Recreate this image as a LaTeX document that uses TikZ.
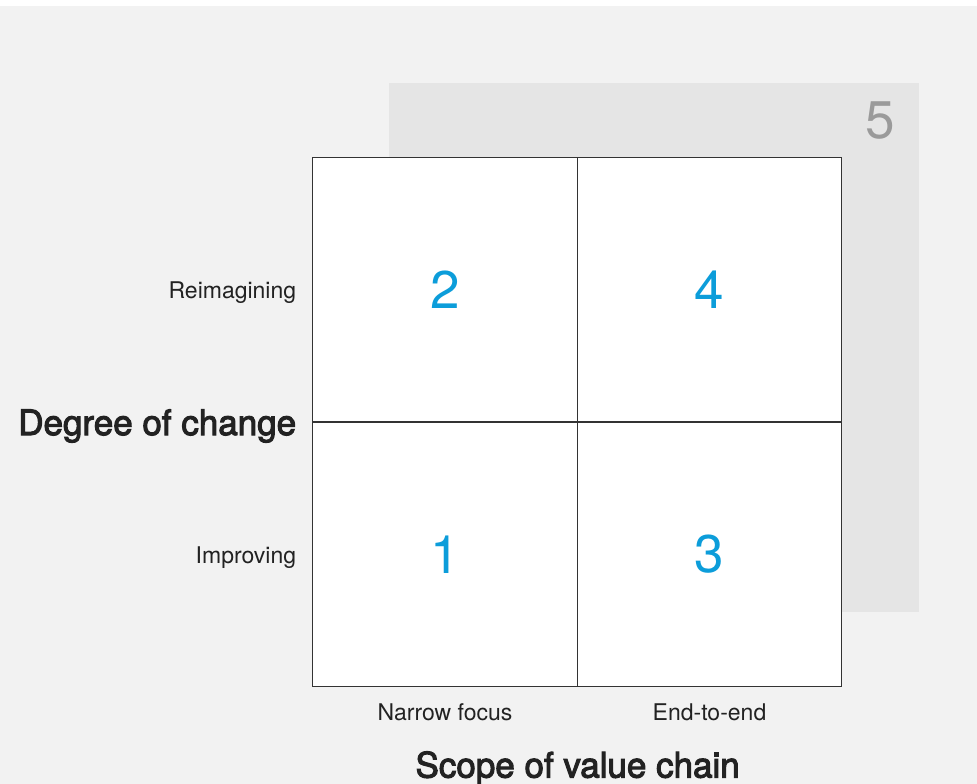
\documentclass[tikz,border=0pt]{standalone}
\usepackage{fontspec}
\setmainfont{TeX Gyre Heros}
\newfontfamily\titlefont[FakeBold=3]{TeX Gyre Heros}
\usetikzlibrary{positioning}
\definecolor{bggray}{HTML}{F2F2F2}
\definecolor{panelgray}{HTML}{E5E5E5}
\definecolor{numblue}{HTML}{0C9DDA}
\definecolor{fivegray}{HTML}{9A9A9A}
\definecolor{inkgray}{HTML}{222222}
\tikzset{
  cell/.style={draw=black!80, fill=white, line width=0.8pt, minimum size=264.5pt,
    inner sep=0pt, text=numblue, font=\fontsize{53}{53}\selectfont},
  axislabel/.style={text=inkgray, inner sep=0pt, font=\fontsize{23}{23}\selectfont},
  axistitle/.style={text=inkgray, inner sep=0pt, font=\titlefont\fontsize{35}{35}\selectfont}
}
\begin{document}
\begin{tikzpicture}[x=1pt, y=-1pt]
    % Background
    \fill[white] (0,0) rectangle (977,784);
    \fill[bggray] (0,6) rectangle (977,784);
    \useasboundingbox (0,0) rectangle (977,784);
    % Back panel
    \fill[panelgray] (389,83) rectangle (919,612);
    \node[text=fivegray, inner sep=0pt, font=\fontsize{53}{53}\selectfont] (five) at (880,121) {5};
    % Cells
    \foreach \n/\x/\y in {1/445/554.5, 2/445/289.5, 3/709.5/554.5, 4/709.5/289.5}
        \node[cell] (c\n) at (\x,\y) {\n};
    % Row labels
    \node[axislabel, anchor=base east] (reimag) at ([xshift=-16pt]c2.west |- 0,298) {Reimagining};
    \node[axislabel, anchor=base east] (improv) at ([xshift=-16pt]c1.west |- 0,563) {Improving};
    \node[axistitle, anchor=base east] (degree) at ([xshift=-16pt]c2.south west |- 0,435) {Degree of change};
    % Column labels
    \node[axislabel, anchor=base] (narrow) at (c1.south |- 0,720) {Narrow focus};
    \node[axislabel, anchor=base] (endtoend) at (c3.south |- 0,720) {End-to-end};
    \node[axistitle, anchor=base] (scope) at (c1.south east |- 0,777.5) {Scope of value chain};
\end{tikzpicture}
\end{document}
